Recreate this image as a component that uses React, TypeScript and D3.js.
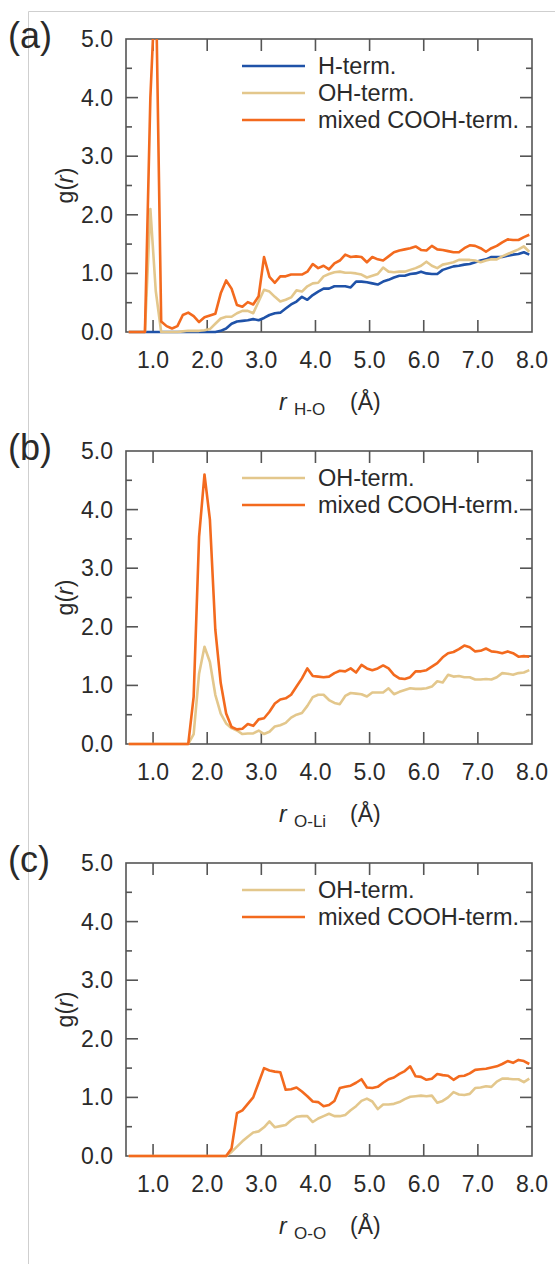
import React from "react";
import * as d3 from "d3";

// r grid (Å) — bin centres
const R = [0.55,0.65,0.75,0.85,0.95,1.05,1.15,1.25,1.35,1.45,1.55,1.65,1.75,1.85,1.95,2.05,2.15,2.25,2.35,2.45,2.55,2.65,2.75,2.85,2.95,3.05,3.15,3.25,3.35,3.45,3.55,3.65,3.75,3.85,3.95,4.05,4.15,4.25,4.35,4.45,4.55,4.65,4.75,4.85,4.95,5.05,5.15,5.25,5.35,5.45,5.55,5.65,5.75,5.85,5.95,6.05,6.15,6.25,6.35,6.45,6.55,6.65,6.75,6.85,6.95,7.05,7.15,7.25,7.35,7.45,7.55,7.65,7.75,7.85,7.95];

// Panel (a) H-O
const aH = [0,0,0,0,0,0,0,0,0,0,0,0,0,0,0,0,0,0.02,0.06,0.14,0.18,0.19,0.2,0.22,0.2,0.24,0.29,0.32,0.33,0.4,0.47,0.52,0.6,0.55,0.63,0.69,0.74,0.74,0.78,0.78,0.78,0.76,0.86,0.86,0.85,0.83,0.81,0.86,0.89,0.93,0.96,0.96,0.99,1.0,1.03,1.0,0.99,0.99,1.06,1.09,1.12,1.13,1.15,1.16,1.19,1.22,1.24,1.28,1.28,1.28,1.3,1.32,1.33,1.36,1.32];
const aOH = [0,0,0,0,2.1,0.7,0,0,0,0,0.01,0.02,0.02,0.02,0.03,0.05,0.14,0.23,0.26,0.26,0.32,0.36,0.36,0.32,0.52,0.72,0.69,0.6,0.52,0.55,0.59,0.71,0.69,0.78,0.83,0.84,0.95,0.99,1.02,1.03,1.01,1.01,1.0,0.98,0.93,0.96,0.99,1.1,1.03,1.02,1.03,1.03,1.06,1.09,1.13,1.2,1.13,1.09,1.15,1.17,1.19,1.23,1.23,1.23,1.22,1.19,1.22,1.24,1.24,1.29,1.33,1.37,1.41,1.46,1.37];
const aCOOH = [0,0,0,0,4.0,6.1,0.18,0.1,0.06,0.1,0.29,0.33,0.27,0.17,0.25,0.28,0.31,0.66,0.88,0.74,0.46,0.43,0.51,0.47,0.61,1.28,0.94,0.84,0.95,0.95,0.98,0.98,0.98,1.03,1.16,1.09,1.13,1.07,1.17,1.22,1.32,1.28,1.29,1.28,1.19,1.28,1.24,1.22,1.29,1.36,1.39,1.41,1.43,1.46,1.4,1.39,1.47,1.41,1.4,1.38,1.36,1.36,1.43,1.48,1.47,1.43,1.37,1.43,1.47,1.53,1.58,1.57,1.57,1.62,1.66];

// Panel (b) O-Li
const bOH = [0,0,0,0,0,0,0,0,0,0,0,0,0.17,1.2,1.66,1.4,0.84,0.52,0.35,0.27,0.23,0.17,0.18,0.18,0.23,0.17,0.21,0.3,0.32,0.36,0.45,0.5,0.53,0.65,0.8,0.84,0.84,0.75,0.7,0.68,0.82,0.87,0.86,0.85,0.81,0.88,0.88,0.88,0.95,0.85,0.89,0.92,0.95,0.94,0.94,0.95,0.98,1.07,1.05,1.18,1.15,1.16,1.14,1.14,1.1,1.1,1.11,1.1,1.14,1.21,1.2,1.18,1.21,1.22,1.26];
const bCOOH = [0,0,0,0,0,0,0,0,0,0,0,0,0.81,3.54,4.6,3.83,1.95,1.04,0.52,0.29,0.25,0.26,0.34,0.31,0.42,0.44,0.55,0.69,0.76,0.78,0.84,0.98,1.12,1.29,1.16,1.15,1.14,1.15,1.21,1.25,1.24,1.29,1.22,1.35,1.29,1.26,1.29,1.34,1.29,1.18,1.12,1.11,1.14,1.24,1.24,1.26,1.32,1.38,1.48,1.55,1.57,1.62,1.68,1.65,1.58,1.59,1.63,1.58,1.57,1.55,1.58,1.55,1.49,1.5,1.49];

// Panel (c) O-O
const cOH = [0,0,0,0,0,0,0,0,0,0,0,0,0,0,0,0,0,0,0,0.07,0.16,0.25,0.33,0.4,0.42,0.49,0.59,0.49,0.51,0.53,0.61,0.67,0.68,0.68,0.58,0.64,0.68,0.72,0.68,0.68,0.7,0.78,0.85,0.94,0.98,0.93,0.8,0.88,0.88,0.89,0.92,0.97,1.01,1.02,1.03,1.02,1.03,0.91,0.94,1.0,1.09,1.05,1.04,1.06,1.16,1.17,1.19,1.18,1.27,1.32,1.32,1.31,1.31,1.26,1.32];
const cCOOH = [0,0,0,0,0,0,0,0,0,0,0,0,0,0,0,0,0,0,0,0.13,0.73,0.78,0.89,1.0,1.25,1.5,1.46,1.44,1.43,1.13,1.14,1.17,1.1,1.02,0.93,0.92,0.85,0.87,0.94,1.16,1.18,1.2,1.25,1.31,1.17,1.16,1.18,1.25,1.31,1.34,1.4,1.45,1.53,1.36,1.35,1.3,1.32,1.4,1.38,1.37,1.3,1.36,1.37,1.41,1.47,1.48,1.49,1.51,1.53,1.57,1.62,1.59,1.64,1.62,1.57];

const X_TICKS = [1, 2, 3, 4, 5, 6, 7, 8];
const Y_MAJOR = [0, 1, 2, 3, 4, 5];
const Y_MINOR = [0.5, 1.5, 2.5, 3.5, 4.5];
const COLORS: Record<string, string> = {
  "H-term.": "#1f52a8",
  "OH-term.": "#e3c78c",
  "mixed COOH-term.": "#f36a1e",
};

const FONT = "'Liberation Sans', Arial, sans-serif";
const AX = "#555";
const TXT = "#2a2a2a";

type Series = { name: string; values: number[] };
type Panel = { tag: string; sub: string; top: number; series: Series[] };

const panels: Panel[] = [
  { tag: "(a)", sub: "H-O", top: 39, series: [
    { name: "H-term.", values: aH },
    { name: "OH-term.", values: aOH },
    { name: "mixed COOH-term.", values: aCOOH },
  ] },
  { tag: "(b)", sub: "O-Li", top: 451, series: [
    { name: "OH-term.", values: bOH },
    { name: "mixed COOH-term.", values: bCOOH },
  ] },
  { tag: "(c)", sub: "O-O", top: 863, series: [
    { name: "OH-term.", values: cOH },
    { name: "mixed COOH-term.", values: cCOOH },
  ] },
];

const LEFT = 126;
const RIGHT = 532;
const H = 293;

function PanelView({ p, idx }: { p: Panel; idx: number }) {
  const top = p.top;
  const bottom = top + H;
  const x = d3.scaleLinear().domain([0.5, 8.0]).range([LEFT, RIGHT]);
  const y = d3.scaleLinear().domain([0, 5]).range([bottom, top]);
  const line = d3
    .line<number>()
    .x((_, i) => x(R[i]))
    .y((d) => y(d));
  const clipId = `clip-${idx}`;
  const midY = (top + bottom) / 2;
  return (
    <g>
      <defs>
        <clipPath id={clipId}>
          <rect x={LEFT - 2} y={top} width={RIGHT - LEFT + 4} height={H + 3} />
        </clipPath>
      </defs>
      <rect x={LEFT} y={top} width={RIGHT - LEFT} height={H} fill="none" stroke={AX} strokeWidth={1.6} />
      {X_TICKS.map((t) => (
        <g key={"x" + t}>
          {t < 8 && (
            <>
              <line x1={x(t)} x2={x(t)} y1={bottom} y2={bottom - 12} stroke={AX} strokeWidth={1.6} />
              <line x1={x(t)} x2={x(t)} y1={top} y2={top + 12} stroke={AX} strokeWidth={1.6} />
            </>
          )}
          <text x={x(t)} y={bottom + 36} textAnchor="middle" fontSize={23} fill={TXT} fontFamily={FONT}>
            {d3.format(".1f")(t)}
          </text>
        </g>
      ))}
      {Y_MAJOR.map((t) => (
        <g key={"y" + t}>
          {t > 0 && t < 5 && (
            <>
              <line x1={LEFT} x2={LEFT + 12} y1={y(t)} y2={y(t)} stroke={AX} strokeWidth={1.6} />
              <line x1={RIGHT} x2={RIGHT - 12} y1={y(t)} y2={y(t)} stroke={AX} strokeWidth={1.6} />
            </>
          )}
          <text x={113} y={y(t) + 8} textAnchor="end" fontSize={23} fill={TXT} fontFamily={FONT}>
            {d3.format(".1f")(t)}
          </text>
        </g>
      ))}
      {Y_MINOR.map((t) => (
        <g key={"ym" + t}>
          <line x1={LEFT} x2={LEFT + 6} y1={y(t)} y2={y(t)} stroke={AX} strokeWidth={1.6} />
          <line x1={RIGHT} x2={RIGHT - 6} y1={y(t)} y2={y(t)} stroke={AX} strokeWidth={1.6} />
        </g>
      ))}
      <g clipPath={`url(#${clipId})`}>
        {p.series.map((s) => (
          <path
            key={s.name}
            d={line(s.values) || ""}
            fill="none"
            stroke={COLORS[s.name]}
            strokeWidth={2.6}
            strokeLinejoin="round"
          />
        ))}
      </g>
      {p.series.map((s, i) => (
        <g key={"lg" + s.name}>
          <line x1={242} x2={305} y1={top + 27 + i * 27} y2={top + 27 + i * 27} stroke={COLORS[s.name]} strokeWidth={2.6} />
          <text x={318} y={top + 27 + i * 27 + 8} fontSize={23.5} fill={TXT} fontFamily={FONT}>
            {s.name}
          </text>
        </g>
      ))}
      <text x={8} y={top + 9} fontSize={36} fill={TXT} fontFamily={FONT}>
        {p.tag}
      </text>
      <text
        transform={`translate(73,${midY}) rotate(-90)`}
        textAnchor="middle"
        fontSize={23}
        fill={TXT}
        fontFamily={FONT}
      >
        g(<tspan fontStyle="italic">r</tspan>)
      </text>
      <text x={279} y={bottom + 78} fontSize={23} fill={TXT} fontFamily={FONT} fontStyle="italic">
        r
      </text>
      <text x={294} y={bottom + 83} fontSize={17} fill={TXT} fontFamily={FONT}>
        {p.sub}
      </text>
      <text x={350} y={bottom + 78} fontSize={23} fill={TXT} fontFamily={FONT}>
        (Å)
      </text>
    </g>
  );
}

export default function App() {
  return (
    <svg
      width={555}
      height={1264}
      style={{ position: "absolute", left: 0, top: 0, background: "#fff" }}
    >
      <rect x={0} y={0} width={555} height={1264} fill="#fff" />
      <path d="M28.5,1264 V11.5 H555" fill="none" stroke="#cfcfcf" strokeWidth={1} />
      {panels.map((p, i) => (
        <PanelView key={p.tag} p={p} idx={i} />
      ))}
    </svg>
  );
}
